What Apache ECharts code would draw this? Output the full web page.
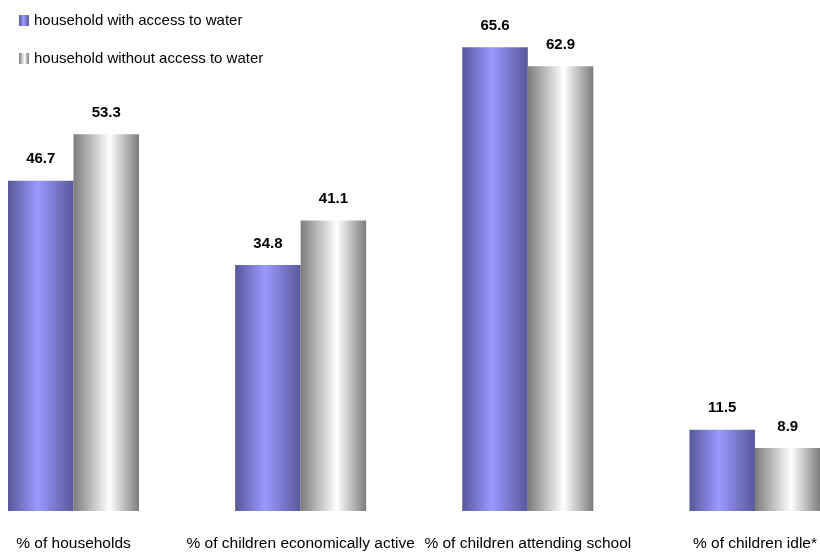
<!DOCTYPE html>
<html>
<head>
<meta charset="utf-8">
<script src="https://cdn.jsdelivr.net/npm/echarts@6/dist/echarts.min.js"></script>
<style>html,body{margin:0;padding:0;background:#fff;}#c{width:820px;height:555px;}</style>
</head>
<body>
<div id="c"></div>
<script>
const categories = ['% of households', '% of children economically active', '% of children attending school', '% of children idle*'];
const seriesNames = ['household with access to water', 'household without access to water'];
const withWater = [46.7, 34.8, 65.6, 11.5];
const withoutWater = [53.3, 41.1, 62.9, 8.9];

const blueGrad = new echarts.graphic.LinearGradient(0, 0, 1, 0, [
  {offset: 0, color: '#58589a'},
  {offset: 0.45, color: '#9999ff'},
  {offset: 1, color: '#58589a'}
]);
const greyGrad = new echarts.graphic.LinearGradient(0, 0, 1, 0, [
  {offset: 0, color: '#7c7c7c'},
  {offset: 0.55, color: '#ffffff'},
  {offset: 1, color: '#7c7c7c'}
]);
const font = 'Liberation Sans, Arial, sans-serif';
const labelCfg = {show: true, position: 'top', distance: 14, fontFamily: font, fontSize: 15, fontWeight: 'bold', color: '#000', formatter: p => p.value.toFixed(1)};

const chart = echarts.init(document.getElementById('c'), null, {renderer: 'canvas'});
chart.setOption({
  animation: false,
  backgroundColor: '#fff',
  legend: {
    orient: 'vertical', left: 14, top: 8, itemGap: 23, itemWidth: 10, itemHeight: 11, icon: 'rect',
    textStyle: {fontFamily: font, fontSize: 15, color: '#000', padding: [0,0,0,0]},
    data: seriesNames
  },
  grid: {left: 73.5, right: 62.5, top: 2, bottom: 44, containLabel: false},
  xAxis: {
    type: 'category', data: categories, boundaryGap: false,
    axisLine: {show: false}, axisTick: {show: false}, splitLine: {show: false},
    axisLabel: {interval: 0, margin: 25, fontFamily: font, fontSize: 15.5, color: '#000'}
  },
  yAxis: {type: 'value', min: 0, max: 72, show: false, splitLine: {show: false}},
  series: [
    {name: seriesNames[0], type: 'bar', data: withWater, barWidth: 65.5, barGap: '0%', clip: false, itemStyle: {color: blueGrad}, label: labelCfg},
    {name: seriesNames[1], type: 'bar', data: withoutWater, barWidth: 65.5, barGap: '0%', clip: false, itemStyle: {color: greyGrad}, label: labelCfg}
  ]
});
</script>
</body>
</html>
